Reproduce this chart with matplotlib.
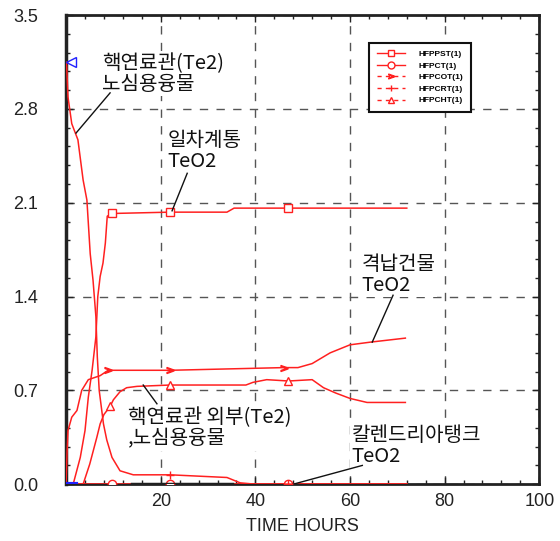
import numpy as np
import matplotlib
matplotlib.use("Agg")
import matplotlib.pyplot as plt
from matplotlib.lines import Line2D
from matplotlib.ticker import MultipleLocator

plt.rcParams['font.family'] = ['Liberation Sans', 'Noto Sans CJK KR']

# 데이터
pps_x = [0, 1.5, 3.0, 4.0, 4.7, 5.5, 6.3, 6.7, 7.2, 7.8, 8.3, 8.7, 9.7, 22, 34, 35.5, 47, 72]
pps_y = [0, 0, 0.2, 0.4, 0.65, 0.85, 1.1, 1.4, 1.55, 1.65, 1.8, 2.0, 2.02, 2.03, 2.03, 2.06, 2.06, 2.06]
pps_mk = [9.7, 22, 47]

pct_x = [0, 9.7, 22, 47, 72]
pct_y = [0, 0, 0, 0, 0]
pct_mk = [9.7, 22, 47]

pcot_x = [0, 0.2, 0.4, 1.2, 2.3, 3.3, 4.7, 7.2, 8.9, 22, 46, 49, 52, 55.8, 60, 64.3, 71.7]
pcot_y = [0, 0.23, 0.4, 0.5, 0.55, 0.7, 0.78, 0.81, 0.85, 0.85, 0.87, 0.87, 0.9, 0.98, 1.04, 1.06, 1.09]
pcot_mk = [8.9, 22, 46]

pcrt_x = [0, 0.1, 0.4, 1.2, 2.5, 3.6, 4.4, 5.1, 5.7, 6.3, 6.6, 7.0, 7.9, 8.6, 9.7, 11.4, 14.2, 22, 34, 36.8, 40, 47, 72]
pcrt_y = [3.15, 3.14, 2.89, 2.69, 2.57, 2.27, 2.12, 1.72, 1.52, 1.25, 0.95, 0.7, 0.45, 0.33, 0.2, 0.1, 0.07, 0.07, 0.05, 0.01, 0.0, 0.0, 0.0]
pcrt_mk = [22, 47]

pcht_x = [0, 3.6, 5.0, 6.5, 7.2, 8.0, 9.3, 10.0, 11.4, 12.8, 15, 22, 38, 39.5, 42.4, 47, 52, 54.4, 57, 60, 63.6, 71.7]
pcht_y = [0, 0, 0.15, 0.35, 0.45, 0.52, 0.58, 0.63, 0.69, 0.72, 0.73, 0.74, 0.74, 0.76, 0.78, 0.77, 0.78, 0.72, 0.68, 0.64, 0.61, 0.61]
pcht_mk = [9.3, 22, 47]

# 파란/검은 작은 표시 (범례 없음)
blue_x = [0, 2]
blue_y = [0, 0]
blue_top_x = [1]
blue_top_y = [3.15]
dark_x = [14, 35]
dark_y = [0.005, 0.005]

labels = ['HFPPST(1)', 'HFPCT(1)', 'HFPCOT(1)', 'HFPCRT(1)', 'HFPCHT(1)']

xticks = [20, 40, 60, 80, 100]
yticks = [0.0, 0.7, 1.4, 2.1, 2.8, 3.5]

RED = '#ff2020'

fig = plt.figure(figsize=(5.6, 5.41), dpi=100)
ax = fig.add_axes([0.118, 0.105, 0.845, 0.867])


def idx(xs, mk):
    return [int(np.argmin(np.abs(np.array(xs) - m))) for m in mk]


series = [
    (pps_x, pps_y, pps_mk, 's', 6),
    (pct_x, pct_y, pct_mk, 'o', 6),
    (pcot_x, pcot_y, pcot_mk, '$>$', 5),
    (pcrt_x, pcrt_y, pcrt_mk, '+', 6),
    (pcht_x, pcht_y, pcht_mk, '^', 6),
]
for xs, ys, mk, m, sz in series:
    ax.plot(xs, ys, color=RED, lw=1.1, marker=m, markevery=idx(xs, mk),
            ms=sz, mfc='white', mec=RED, mew=1.0, zorder=3)

ax.plot(dark_x, dark_y, color='#202020', lw=2.5, zorder=4)
ax.plot(blue_x, blue_y, color='#2020ff', lw=3, zorder=4)
ax.plot(blue_top_x, blue_top_y, marker='<', ms=7, mfc='none', mec='#2020ff', ls='none', zorder=4)

ax.set_xlim(0, 100)
ax.set_ylim(0, 3.5)
ax.set_xticks(xticks)
ax.set_yticks(yticks)
ax.set_yticklabels([f"{v:.1f}" for v in yticks])
ax.xaxis.set_minor_locator(MultipleLocator(4))
ax.yaxis.set_minor_locator(MultipleLocator(0.14))
ax.tick_params(which='both', direction='in', top=True, right=True, color='#222222')
ax.tick_params(which='major', length=5, width=1)
ax.tick_params(which='minor', length=3, width=1)
ax.tick_params(axis='y', pad=20, labelsize=13, labelcolor='#222222')
ax.tick_params(axis='x', pad=6, labelsize=13, labelcolor='#222222')

ax.grid(True, which='major', color='#555555', lw=1, ls=(0, (6, 6)))
for s in ax.spines.values():
    s.set_linewidth(2)
    s.set_color('#222222')
ax.spines['left'].set_linewidth(2.5)

ax.set_xlabel('TIME HOURS', fontsize=13, color='#222222', labelpad=6)

# 주석
kfont = ['Noto Sans CJK KR']
bb = dict(facecolor='white', edgecolor='none', pad=1)
notes = [
    ("핵연료관(Te2)\n노심용융물", (7.6, 3.22), (9.3, 2.92), (2.1, 2.62)),
    ("일차계통\nTeO2", (21.4, 2.64), (25.6, 2.32), (22.4, 2.04)),
    ("격납건물\nTeO2", (62.4, 1.72), (69.1, 1.41), (64.7, 1.06)),
    ("핵연료관 외부(Te2)\n,노심용융물", (13.0, 0.575), (19.2, 0.60), (16.3, 0.74)),
    ("칼렌드리아탱크\nTeO2", (60.3, 0.44), (62.6, 0.14), (48, 0.0)),
]
for txt, pos, p0, p1 in notes:
    ax.text(pos[0], pos[1], txt, family=kfont, fontsize=14.5, weight='medium',
            ha='left', va='top', linespacing=1.0, color='#111111', bbox=bb, zorder=5)
    ax.plot([p0[0], p1[0]], [p0[1], p1[1]], color='#111111', lw=1, zorder=5)

handles = [
    Line2D([], [], color=RED, lw=1, marker='s', ms=5, mfc='white', mec=RED),
    Line2D([], [], color=RED, lw=1, marker='o', ms=5, mfc='white', mec=RED),
    Line2D([], [], color=RED, lw=1, ls=(0, (3, 3)), marker='$>$', ms=4, mec=RED),
    Line2D([], [], color=RED, lw=1, ls=(0, (3, 3)), marker='+', ms=5, mec=RED),
    Line2D([], [], color=RED, lw=1, ls=(0, (3, 3)), marker='^', ms=5, mfc='white', mec=RED),
]
leg = ax.legend(handles, labels, loc='upper left', bbox_to_anchor=(0.632, 0.95),
                prop={'family': 'Liberation Sans', 'weight': 'bold', 'size': 6},
                handlelength=3.4, handletextpad=1.6, labelspacing=0.45,
                borderpad=0.9, fancybox=False, framealpha=1, edgecolor='#111111')
leg.get_frame().set_linewidth(1.5)
leg.set_zorder(6)

fig.savefig('out.png', dpi=100)
